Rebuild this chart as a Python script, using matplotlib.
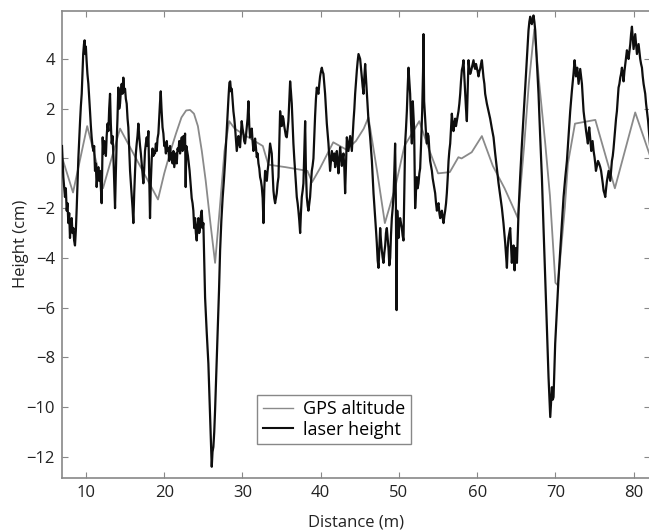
import matplotlib
matplotlib.use("Agg")
import matplotlib.pyplot as plt

gps_distance = [6.93, 8.34, 10.15, 12.17, 14.35, 19.2, 20.0, 20.8, 21.5, 22.2, 22.8, 23.3, 23.8,
                24.3, 24.8, 25.3, 25.9, 26.5, 27.1, 27.7, 28.3, 29.0, 30.5, 32.6, 33.3, 35.5,
                38.3, 38.9, 39.9, 41.6, 43.3, 44.5, 45.5, 46.1, 47.2, 48.2, 49.5, 50.7, 52.6,
                53.8, 55.0, 56.5, 57.6, 58.0, 59.3, 60.6, 62.0, 63.5, 64.5, 65.2, 66.0, 66.6,
                67.3, 68.0, 68.7, 69.3, 70.0, 70.3, 71.2, 71.6, 72.5, 75.1, 77.6, 80.2, 82.1]
gps_altitude = [0.05, -1.37, 1.3, -1.2, 1.2, -1.65, -0.6, 0.3, 1.0, 1.65, 1.93, 1.95, 1.8,
                1.3, 0.3, -0.9, -2.6, -4.2, -2.0, 0.3, 1.5, 1.2, 0.9, 0.5, -0.25, -0.35,
                -0.5, -0.95, -0.4, 0.65, 0.35, 0.7, 1.2, 1.65, -0.5, -2.6, -1.2, 0.5, 1.5,
                0.4, -0.6, -0.55, 0.05, 0.0, 0.25, 0.9, -0.3, -1.2, -1.9, -2.4, 0.5, 3.0,
                5.2, 2.8, 0.6, -1.5, -5.0, -5.1, -2.0, -0.2, 1.4, 1.55, -1.2, 1.85, 0.1]

laser_distance = [
    6.93, 7.1, 7.31, 7.42, 7.53, 7.63, 7.74, 7.85, 7.95, 8.06, 8.17, 8.27, 8.38, 8.48, 8.59, 8.7,
    8.81, 8.91, 9.02, 9.13, 9.24, 9.34, 9.45, 9.55, 9.64, 9.74, 9.82, 9.9, 9.98, 10.08, 10.18,
    10.3, 10.4, 10.51, 10.62, 10.72, 10.83, 10.94, 11.04, 11.15, 11.25, 11.36, 11.47, 11.58,
    11.68, 11.79, 11.9, 12.0, 12.13, 12.23, 12.33, 12.43, 12.54, 12.64, 12.75, 12.86, 12.96,
    13.07, 13.17, 13.28, 13.39, 13.49, 13.6, 13.71, 13.81, 13.92, 14.02, 14.13, 14.24, 14.35,
    14.45, 14.56, 14.67, 14.77, 14.88, 14.99, 15.09, 15.2, 15.31, 15.41, 15.52, 15.63, 15.73,
    15.84, 15.95, 16.05, 16.16, 16.27, 16.37, 16.48, 16.58, 16.69, 16.8, 16.91, 17.01, 17.12,
    17.22, 17.33, 17.44, 17.54, 17.65, 17.76, 17.86, 17.97, 18.07, 18.18, 18.29, 18.4, 18.5,
    18.61, 18.72, 18.82, 18.93, 19.04, 19.14, 19.25, 19.35, 19.45, 19.55, 19.65, 19.78, 19.89,
    20.0, 20.1, 20.21, 20.32, 20.42, 20.53, 20.64, 20.74, 20.85, 20.96, 21.06, 21.17, 21.28,
    21.38, 21.49, 21.6, 21.7, 21.81, 21.92, 22.02, 22.13, 22.24, 22.34, 22.45, 22.56, 22.66,
    22.74, 22.82, 22.92, 23.03, 23.14, 23.24, 23.3, 23.4, 23.51, 23.62, 23.72, 23.83, 23.94,
    24.04, 24.15, 24.25, 24.36, 24.47, 24.58, 24.68, 24.79, 24.9, 25.0, 25.1, 25.22, 25.43,
    25.64, 25.85, 25.98, 26.07, 26.17, 26.28, 26.39, 26.5, 26.67, 26.84, 27.0, 27.14, 27.3,
    27.46, 27.62, 27.78, 27.95, 28.12, 28.22, 28.33, 28.43, 28.53, 28.63, 28.74, 28.84, 28.95,
    29.05, 29.16, 29.27, 29.38, 29.48, 29.59, 29.69, 29.8, 29.9, 30.01, 30.12, 30.22, 30.33,
    30.44, 30.55, 30.65, 30.76, 30.87, 30.97, 31.08, 31.19, 31.29, 31.4, 31.51, 31.61, 31.72,
    31.83, 31.93, 32.04, 32.15, 32.25, 32.36, 32.47, 32.58, 32.68, 32.79, 32.89, 33.0, 33.11,
    33.21, 33.32, 33.43, 33.53, 33.64, 33.74, 33.85, 33.96, 34.06, 34.17, 34.28, 34.38, 34.49,
    34.6, 34.7, 34.81, 34.92, 35.02, 35.13, 35.23, 35.34, 35.45, 35.55, 35.66, 35.77, 35.87,
    35.98, 36.09, 36.19, 36.3, 36.41, 36.51, 36.62, 36.73, 36.83, 36.94, 37.05, 37.15, 37.26,
    37.37, 37.47, 37.58, 37.69, 37.79, 37.9, 38.01, 38.11, 38.22, 38.33, 38.43, 38.54, 38.64,
    38.75, 38.86, 38.96, 39.07, 39.18, 39.28, 39.39, 39.5, 39.6, 39.71, 39.82, 39.92, 40.03,
    40.14, 40.24, 40.35, 40.46, 40.56, 40.67, 40.78, 40.88, 40.99, 41.1, 41.2, 41.31, 41.42,
    41.52, 41.63, 41.74, 41.84, 41.95, 42.06, 42.16, 42.27, 42.38, 42.48, 42.59, 42.7, 42.8,
    42.91, 43.02, 43.12, 43.23, 43.34, 43.44, 43.55, 43.66, 43.76, 43.87, 43.98, 44.08, 44.19,
    44.3, 44.4, 44.51, 44.62, 44.72, 44.83, 44.94, 45.04, 45.15, 45.26, 45.36, 45.47, 45.58,
    45.68, 45.79, 45.9, 46.0, 46.11, 46.22, 46.32, 46.43, 46.54, 46.64, 46.75, 46.86, 46.96,
    47.07, 47.17, 47.28, 47.39, 47.49, 47.6, 47.7, 47.81, 47.92, 48.02, 48.13, 48.24, 48.34,
    48.45, 48.56, 48.66, 48.77, 48.88, 48.98, 49.09, 49.2, 49.3, 49.41, 49.51, 49.6, 49.7,
    49.78, 49.94, 50.04, 50.15, 50.26, 50.37, 50.47, 50.58, 50.68, 50.79, 50.9, 51.01, 51.11,
    51.22, 51.33, 51.43, 51.54, 51.65, 51.77, 51.88, 51.94, 52.07, 52.18, 52.29, 52.39, 52.5,
    52.61, 52.71, 52.82, 52.97, 53.08, 53.14, 53.22, 53.35, 53.46, 53.57, 53.67, 53.78, 53.89,
    53.99, 54.1, 54.21, 54.31, 54.42, 54.53, 54.63, 54.74, 54.85, 54.95, 55.06, 55.17, 55.27,
    55.38, 55.49, 55.59, 55.7, 55.81, 55.91, 56.02, 56.12, 56.23, 56.34, 56.44, 56.55, 56.66,
    56.76, 56.87, 56.97, 57.08, 57.19, 57.29, 57.4, 57.51, 57.61, 57.72, 57.83, 57.93, 58.04,
    58.15, 58.25, 58.36, 58.47, 58.57, 58.68, 58.79, 58.89, 59.0, 59.11, 59.21, 59.32, 59.43,
    59.53, 59.64, 59.74, 59.85, 59.96, 60.06, 60.17, 60.28, 60.38, 60.49, 60.6, 60.7, 60.81,
    60.92, 61.02, 61.13, 61.24, 61.45, 61.66, 61.88, 62.09, 62.3, 62.51, 62.73, 62.94, 63.16,
    63.36, 63.58, 63.69, 63.8, 63.9, 64.0, 64.11, 64.22, 64.33, 64.43, 64.54, 64.65, 64.78,
    64.87, 64.95, 65.08, 65.18, 65.29, 65.5, 65.72, 65.93, 66.14, 66.35, 66.56, 66.67, 66.78,
    66.88, 66.99, 67.1, 67.2, 67.31, 67.42, 67.63, 67.84, 68.05, 68.27, 68.48, 68.7, 68.91,
    69.12, 69.23, 69.34, 69.45, 69.55, 69.66, 69.76, 69.87, 69.97, 70.19, 70.4, 70.61, 70.83,
    71.04, 71.25, 71.47, 71.68, 71.89, 72.1, 72.31, 72.45, 72.53, 72.62, 72.7, 72.79, 72.88,
    72.96, 73.07, 73.17, 73.28, 73.39, 73.5, 73.6, 73.71, 73.81, 73.92, 74.03, 74.15, 74.23,
    74.32, 74.45, 74.58, 74.66, 74.75, 74.88, 75.0, 75.09, 75.18, 75.31, 75.44, 75.58, 75.73,
    75.84, 75.95, 76.05, 76.16, 76.26, 76.37, 76.48, 76.59, 76.69, 76.8, 76.9, 77.01, 77.12,
    77.22, 77.33, 77.43, 77.54, 77.65, 77.75, 77.86, 77.97, 78.07, 78.18, 78.29, 78.39, 78.5,
    78.61, 78.71, 78.82, 78.93, 79.03, 79.14, 79.25, 79.35, 79.46, 79.57, 79.67, 79.78, 79.89,
    79.99, 80.1, 80.2, 80.31, 80.42, 80.52, 80.63, 80.74, 80.84, 80.95, 81.06, 81.16, 81.27,
    81.38, 81.48, 81.59, 81.7, 81.85, 82.0, 82.1]
laser_height = [
    0.5, -0.75, -1.55, -1.2, -2.1, -1.8, -2.6, -2.2, -3.2, -2.6, -2.4, -3.0, -2.8, -3.3, -3.5, -2.9,
    -2.0, -1.0, 0.0, 0.8, 1.5, 2.1, 2.6, 3.4, 4.2, 4.6, 4.75, 4.2, 4.5, 3.9, 3.4,
    3.0, 2.5, 1.9, 1.3, 0.85, 0.5, 0.3, 0.5, -0.5, -0.2, -1.15, -0.6, -0.35,
    -0.9, -0.5, -1.2, -1.8, 0.85, 0.2, 0.7, 0.6, 0.1, 0.9, 1.4, 1.1, 2.0,
    2.6, 1.4, 0.6, 0.9, 0.2, -0.9, -2.0, -0.6, 0.7, 1.6, 2.85, 2.0, 2.2,
    2.7, 3.0, 2.6, 3.25, 2.7, 2.8, 2.4, 2.2, 1.6, 1.25, 0.4, -0.5, -1.0,
    -1.5, -2.0, -2.6, -1.4, -0.5, 0.2, 0.6, 0.9, 1.4, 0.9, 0.5, 0.2, -0.2,
    -0.6, -1.0, -0.4, 0.3, 0.6, 0.85, 0.5, 1.1, -0.6, -2.4, -0.9, 0.0, 0.4,
    0.1, 0.3, 0.2, 0.6, 0.3, 0.8, 1.0, 1.6, 2.2, 2.7, 2.0, 1.25, 1.0,
    0.5, 0.6, 0.2, 0.7, 0.3, 0.4, -0.1, 0.5, 0.0, 0.2, -0.2, 0.3, -0.35,
    -0.1, 0.2, -0.2, 0.4, 0.3, 0.7, 0.2, 0.6, 0.85, 0.3, 0.9, 0.4, 1.0,
    -1.15, 0.5, 0.3, 0.1, -0.2, -0.5, -0.75, -1.2, -1.6, -1.8, -2.1, -2.8, -2.4,
    -3.0, -3.3, -2.7, -2.4, -3.0, -2.8, -2.3, -2.1, -2.8, -2.6, -4.0, -5.6, -7.0,
    -8.25, -10.3, -11.5, -12.4, -11.8, -11.6, -11.0, -10.1, -8.5, -6.9, -5.3, -3.7, -2.5,
    -1.6, -0.9, -0.1, 0.9, 1.9, 2.5, 3.05, 3.1, 2.7, 2.8, 2.3, 1.9, 1.6,
    1.25, 0.8, 0.3, 0.6, 0.9, 0.6, 0.45, 1.0, 1.5, 1.2, 1.0, 0.7, 0.6,
    0.9, 1.25, 1.6, 2.3, 1.3, 0.85, 1.0, 1.2, 0.7, 0.3, 0.5, 0.8, 0.4,
    0.05, 0.2, -0.2, -0.4, -0.75, -0.9, -1.15, -1.6, -2.6, -1.2, -0.5, -0.7, -0.9,
    -0.5, -0.2, 0.2, 0.6, 0.4, 0.2, -0.6, -1.3, -1.6, -1.8, -1.6, -1.4, -1.0,
    -0.75, 0.5, 1.9, 1.5, 1.3, 1.7, 1.6, 1.3, 1.1, 0.9, 0.85, 1.2, 1.5,
    2.3, 3.1, 2.7, 2.2, 1.4, 0.6, 0.0, -0.5, -1.0, -1.55, -1.8, -2.1, -2.5,
    -3.0, -2.2, -1.55, -1.3, -1.0, 0.2, 1.5, -0.5, -1.55, -1.9, -2.1, -1.8, -1.55,
    -1.0, -0.5, -0.3, 0.0, 0.9, 1.7, 2.4, 2.85, 2.7, 2.6, 3.0, 3.3, 3.5,
    3.65, 3.5, 3.4, 3.0, 2.6, 2.0, 1.4, 1.0, 0.6, 0.0, -0.5, -0.1, 0.3,
    0.1, -0.1, 0.2, -0.35, 0.0, 0.3, -0.2, -0.6, 0.0, 0.45, 0.1, -0.3, 0.0,
    0.2, -0.4, -1.4, -0.2, 0.85, 0.6, 0.3, 0.6, 0.9, 0.6, 0.3, 0.9, 1.5,
    2.0, 2.6, 3.1, 3.55, 3.9, 4.2, 4.1, 4.0, 3.6, 3.25, 2.9, 2.6, 3.3,
    3.8, 3.2, 2.6, 2.0, 1.5, 1.2, 0.85, 0.4, -0.1, -0.7, -1.4, -1.9, -2.4,
    -2.9, -3.4, -4.1, -4.4, -3.6, -2.8, -3.3, -3.7, -4.0, -4.2, -3.8, -3.5, -3.0,
    -2.8, -3.2, -3.6, -4.3, -4.0, -3.1, -2.4, -2.0, -1.55, -0.5, 0.6, -1.5, -6.1,
    -2.1, -3.2, -2.7, -2.4, -2.6, -2.8, -3.1, -3.3, -1.5, 0.6, 1.2, 1.9, 2.8,
    3.65, 3.1, 2.6, 1.5, 0.6, 2.3, 1.6, 1.2, -2.0, -1.3, -0.75, -1.2, -1.0,
    -0.6, -0.4, 0.5, 1.9, 3.5, 5.0, 2.3, 1.6, 1.0, 0.6, 1.0, 0.9, 0.3,
    -0.1, -0.3, -0.5, -0.8, -1.0, -1.2, -1.4, -1.8, -2.1, -1.9, -1.8, -2.2, -2.4,
    -2.2, -2.1, -2.4, -2.6, -2.3, -2.1, -1.8, -1.4, -0.8, -0.1, 0.3, 0.6, 1.2,
    1.8, 1.4, 1.1, 1.4, 1.6, 1.3, 1.5, 1.7, 1.9, 2.2, 2.6, 3.1, 3.55,
    3.7, 3.95, 3.3, 2.6, 2.0, 1.5, 2.8, 3.95, 3.6, 3.4, 3.5, 3.65, 3.8,
    3.95, 3.7, 3.6, 3.8, 3.65, 3.5, 3.3, 3.5, 3.6, 3.8, 3.95, 3.6, 3.25,
    3.0, 2.6, 2.4, 2.2, 1.9, 1.6, 1.2, 0.85, 0.2, -0.4, -1.0, -1.5, -2.0,
    -2.6, -3.4, -3.9, -4.4, -3.6, -3.2, -3.0, -2.8, -3.5, -4.2, -3.7, -3.5, -4.5,
    -3.9, -3.6, -4.2, -3.2, -2.1, -0.7, 0.6, 1.7, 2.85, 4.0, 5.15, 5.5, 5.7,
    5.5, 5.4, 5.6, 5.75, 5.5, 5.15, 3.9, 2.6, 0.9, -0.75, -2.8, -4.8, -6.8,
    -8.8, -9.6, -10.4, -9.8, -9.2, -9.7, -9.6, -8.5, -7.45, -6.1, -4.8, -3.7, -2.6,
    -1.55, -0.8, -0.1, 0.9, 1.9, 2.7, 3.4, 3.95, 3.7, 3.3, 3.5, 3.65, 3.3,
    3.0, 3.3, 3.6, 3.3, 3.0, 2.4, 1.9, 1.6, 1.4, 1.1, 0.85, 0.6, 1.0,
    1.25, 0.8, 0.3, 0.5, 0.7, 0.3, 0.05, -0.2, -0.5, -0.3, -0.1, -0.2, -0.35,
    -0.5, -0.75, -1.0, -1.3, -1.4, -1.55, -1.2, -0.9, -0.7, -0.5, -0.7, -0.9, -0.5,
    -0.1, 0.1, 0.4, 0.8, 1.25, 1.6, 1.9, 2.4, 2.85, 3.0, 3.25, 3.4, 3.65,
    3.4, 3.1, 3.5, 3.8, 4.1, 4.35, 4.2, 4.0, 4.3, 4.6, 5.0, 5.3, 4.8,
    4.4, 4.7, 5.0, 4.6, 4.2, 4.4, 4.6, 4.3, 4.0, 3.8, 3.65, 3.3, 3.0,
    2.8, 2.6, 2.2, 1.9, 1.5, 0.9, 0.5]

x_ticks = [10, 20, 30, 40, 50, 60, 70, 80]
y_ticks = [-12, -10, -8, -6, -4, -2, 0, 2, 4]

plt.rcParams['font.family'] = ['Open Sans', 'DejaVu Sans']

fig = plt.figure(figsize=(6.49, 5.30), dpi=100)
ax = fig.add_axes([62 / 649, 52.3 / 530, 588 / 649, 466.7 / 530])

ax.plot(gps_distance, gps_altitude, color='#8a8a8a', lw=1.3, label='GPS altitude', zorder=2)
ax.plot(laser_distance, laser_height, color='#0e0e0e', lw=1.6, label='laser height', zorder=3)

ax.set_xlim(6.93, 82.09)
ax.set_ylim(-12.84, 5.93)
ax.set_xticks(x_ticks)
ax.set_yticks(y_ticks)
ax.tick_params(direction='in', length=4, width=0.8, color='#888888', labelsize=12,
               labelcolor='#222222', top=True, right=True, pad=5)
for s in ax.spines.values():
    s.set_color('#888888')
    s.set_linewidth(1.2)

ax.set_xlabel('Distance (m)', fontsize=12, color='#222222', labelpad=10)
ax.set_ylabel('Height (cm)', fontsize=12, color='#222222', labelpad=-2)

leg = ax.legend(loc='lower left', bbox_to_anchor=(0.332, 0.072), borderaxespad=0,
                fontsize=13, fancybox=False, framealpha=1, handlelength=1.7,
                handletextpad=0.55, borderpad=0.3, labelspacing=0.15)
leg.get_frame().set_edgecolor('#888888')
leg.get_frame().set_linewidth(1.0)
leg.get_lines()[0].set_linewidth(1.0)
leg.get_lines()[1].set_linewidth(1.5)

fig.savefig('out.png', dpi=100)
